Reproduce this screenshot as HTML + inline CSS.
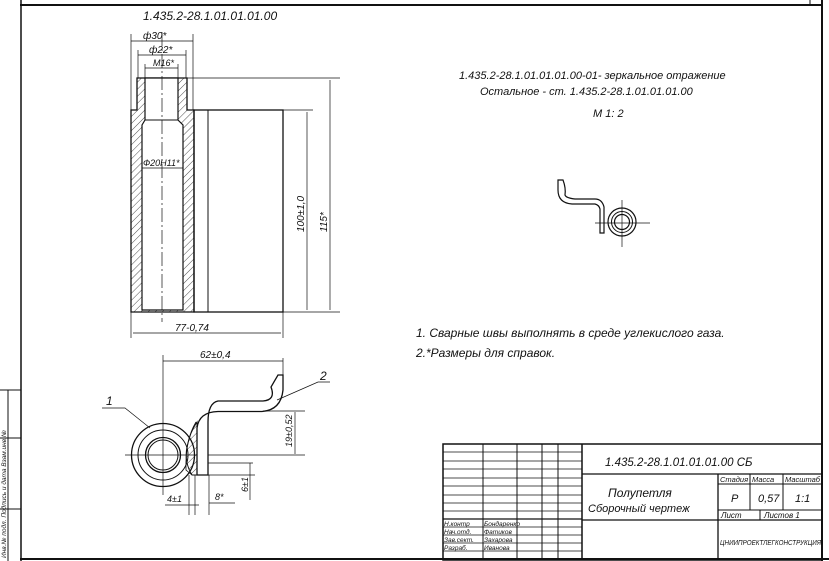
<!DOCTYPE html>
<html><head><meta charset="utf-8"><style>
html,body{margin:0;padding:0;background:#fff}
svg{display:block}
text{font-family:"Liberation Sans","DejaVu Sans",sans-serif;font-style:italic;fill:#111}
</style></head><body>
<svg width="829" height="561" viewBox="0 0 829 561" xmlns="http://www.w3.org/2000/svg">
<defs>
<pattern id="h" width="5" height="5" patternUnits="userSpaceOnUse" patternTransform="rotate(45)">
<line x1="0" y1="0" x2="0" y2="5" stroke="#222" stroke-width="0.8"/></pattern>
</defs>
<g stroke="#111" fill="none" stroke-width="1">
<line x1="20" y1="5" x2="822" y2="5" stroke-width="2"/>
<line x1="21" y1="0" x2="21" y2="561" stroke-width="1.5"/>
<line x1="822" y1="0" x2="822" y2="561" stroke-width="2"/>
<line x1="20" y1="559" x2="829" y2="559" stroke-width="2"/>
<line x1="810" y1="0" x2="810" y2="5"/>
<line x1="0" y1="390" x2="21" y2="390"/><line x1="0" y1="438" x2="21" y2="438"/><line x1="0" y1="509" x2="21" y2="509"/>
<line x1="8" y1="390" x2="8" y2="561"/>

<path d="M137 78 L187 78 L187 110 L194 110 L194 312 L131 312 L131 110 L137 110 Z" stroke-width="1.3" fill="url(#h)"/>
<path d="M145 78 L178 78 L178 120 L183 125 L183 310 L142 310 L142 125 L145 120 Z" fill="#fff" stroke-width="1.2"/>
<line x1="145" y1="120" x2="178" y2="120"/>
<line x1="162" y1="32" x2="162" y2="322" stroke-dasharray="14 3 2 3" stroke-width="0.7"/>
<rect x="194" y="110" width="89" height="202" stroke-width="1.3"/>
<line x1="208" y1="110" x2="208" y2="312"/>
<line x1="187" y1="78" x2="340" y2="78" stroke-width="0.7"/>
<line x1="283" y1="110" x2="313" y2="110" stroke-width="0.7"/>
<line x1="283" y1="312" x2="340" y2="312" stroke-width="0.7"/>
<line x1="307" y1="112" x2="307" y2="310" stroke-width="0.7"/>
<line x1="330" y1="80" x2="330" y2="310" stroke-width="0.7"/>
<line x1="131" y1="312" x2="131" y2="338" stroke-width="0.7"/>
<line x1="283" y1="312" x2="283" y2="338" stroke-width="0.7"/>
<line x1="133" y1="333" x2="281" y2="333" stroke-width="0.7"/>
<line x1="131" y1="34" x2="131" y2="110" stroke-width="0.7"/>
<line x1="193" y1="34" x2="193" y2="110" stroke-width="0.7"/>
<line x1="131" y1="41" x2="193" y2="41" stroke-width="0.7"/>
<line x1="138" y1="50" x2="138" y2="78" stroke-width="0.7"/>
<line x1="186" y1="50" x2="186" y2="78" stroke-width="0.7"/>
<line x1="138" y1="55" x2="186" y2="55" stroke-width="0.7"/>
<line x1="145" y1="64" x2="145" y2="78" stroke-width="0.7"/>
<line x1="178" y1="64" x2="178" y2="78" stroke-width="0.7"/>
<line x1="145" y1="68" x2="178" y2="68" stroke-width="0.7"/>
<line x1="142" y1="168" x2="183" y2="168" stroke-width="0.7"/>

<circle cx="163" cy="455" r="31.5" stroke-width="1.3"/>
<circle cx="163" cy="455" r="25"/>
<circle cx="163" cy="455" r="17.5" stroke-width="1.3"/>
<circle cx="163" cy="455" r="15"/>
<line x1="125" y1="455" x2="305" y2="455" stroke-width="0.7"/>
<line x1="163" y1="355" x2="163" y2="495" stroke-width="0.7"/>
<path d="M197 475 L197 428 Q199 412 218 411.5 L262 411.5 Q281 410 283 390 L283 375 L278 375 L271 387 Q276 400 263 401 L218 401 Q208 403 208 422 L208 475 Z" stroke-width="1.3" fill="#fff"/>
<path d="M197 422 L197 475 L192 475 Q184 462 187 447 Q190 432 197 422 Z" fill="url(#h)" stroke-width="1"/>
<path d="M196 422 Q185 440 186 470 L192 475" stroke-width="0.8"/>
<line x1="163" y1="361" x2="283" y2="361" stroke-width="0.7"/>
<line x1="283" y1="358" x2="283" y2="375" stroke-width="0.7"/>
<line x1="263" y1="411" x2="305" y2="411" stroke-width="0.7"/>
<line x1="295" y1="412" x2="295" y2="454" stroke-width="0.7"/>
<line x1="208" y1="463" x2="253" y2="463" stroke-width="0.7"/>
<line x1="197" y1="475" x2="255" y2="475" stroke-width="0.7"/>
<line x1="250" y1="463" x2="250" y2="500" stroke-width="0.7"/>
<line x1="189" y1="475" x2="189" y2="515" stroke-width="0.7"/>
<line x1="195" y1="475" x2="195" y2="515" stroke-width="0.7"/>
<line x1="209" y1="475" x2="209" y2="515" stroke-width="0.7"/>
<line x1="165" y1="505" x2="199" y2="505" stroke-width="0.7"/>
<line x1="209" y1="503" x2="235" y2="503" stroke-width="0.7"/>
<polyline points="102,408 125,408 150,428" stroke-width="0.7"/>
<polyline points="277,400 318,382 330,382" stroke-width="0.7"/>

<path d="M558 180 L563 180 Q566 188 565 195 Q566 198 575 199 L595 199 Q602 199 604 207 L604 233 L600 233 L600 209 Q599 205 595 204 L572 204 Q558 203 558 190 Z" stroke-width="1.2"/>
<circle cx="622" cy="222" r="14" stroke-width="1.2"/>
<circle cx="622" cy="222" r="10.5"/>
<circle cx="622" cy="222" r="7.5" stroke-width="1.2"/>
<line x1="595" y1="223" x2="650" y2="223" stroke-width="0.7"/>
<line x1="622" y1="200" x2="622" y2="247" stroke-width="0.7"/>

<rect x="443" y="444" width="379" height="116" stroke-width="1.5"/>
<line x1="582" y1="444" x2="582" y2="560" stroke-width="1.5"/>
<line x1="483" y1="444" x2="483" y2="560"/>
<line x1="517" y1="444" x2="517" y2="560"/>
<line x1="542" y1="444" x2="542" y2="560"/>
<line x1="558" y1="444" x2="558" y2="560"/>
<g stroke-width="0.8">
<line x1="443" y1="452" x2="582" y2="452"/><line x1="443" y1="461" x2="582" y2="461"/>
<line x1="443" y1="469" x2="582" y2="469"/><line x1="443" y1="478" x2="582" y2="478"/>
<line x1="443" y1="486" x2="582" y2="486"/><line x1="443" y1="495" x2="582" y2="495"/>
<line x1="443" y1="503" x2="582" y2="503"/><line x1="443" y1="511" x2="582" y2="511"/>
<line x1="443" y1="519" x2="582" y2="519" stroke-width="1.2"/><line x1="443" y1="527" x2="582" y2="527"/>
<line x1="443" y1="535" x2="582" y2="535"/><line x1="443" y1="543" x2="582" y2="543"/>
<line x1="443" y1="551" x2="582" y2="551"/>
</g>
<line x1="582" y1="474" x2="822" y2="474" stroke-width="1.3"/>
<line x1="718" y1="484" x2="822" y2="484"/>
<line x1="582" y1="520" x2="822" y2="520" stroke-width="1.3"/>
<line x1="718" y1="510" x2="822" y2="510"/>
<line x1="718" y1="474" x2="718" y2="560" stroke-width="1.3"/>
<line x1="750" y1="474" x2="750" y2="510"/>
<line x1="783" y1="474" x2="783" y2="510"/>
<line x1="760" y1="510" x2="760" y2="520"/>
</g>

<g font-size="11">
<text x="143" y="20" font-size="12">1.435.2-28.1.01.01.01.00</text>
<text x="143" y="39" font-size="10">ф30*</text>
<text x="149" y="53" font-size="10">ф22*</text>
<text x="153" y="66" font-size="9">М16*</text>
<text x="143" y="166" font-size="9">Ф20Н11*</text>
<text x="175" y="331" font-size="10">77-0,74</text>
<text transform="translate(304,232) rotate(-90)" font-size="10">100±1,0</text>
<text transform="translate(327,232) rotate(-90)" font-size="10">115*</text>
<text x="200" y="358" font-size="10">62±0,4</text>
<text x="320" y="380" font-size="12">2</text>
<text x="106" y="405" font-size="12">1</text>
<text transform="translate(292,447) rotate(-90)" font-size="9">19±0,52</text>
<text transform="translate(248,492) rotate(-90)" font-size="9">6±1</text>
<text x="167" y="502" font-size="9">4±1</text>
<text x="215" y="500" font-size="9">8*</text>

<text x="459" y="79" font-size="11">1.435.2-28.1.01.01.01.00-01- зеркальное  отражение</text>
<text x="480" y="95" font-size="11">Остальное - ст. 1.435.2-28.1.01.01.01.00</text>
<text x="593" y="117" font-size="11">М 1: 2</text>
<text x="416" y="337" font-size="12">1. Сварные  швы  выполнять  в среде  углекислого  газа.</text>
<text x="416" y="357" font-size="12">2.*Размеры  для  справок.</text>

<text x="605" y="466" font-size="11.5">1.435.2-28.1.01.01.01.00 СБ</text>
<text x="608" y="497" font-size="12">Полупетля</text>
<text x="588" y="512" font-size="11">Сборочный   чертеж</text>
<text x="720" y="482" font-size="7.5">Стадия</text>
<text x="752" y="482" font-size="7.5">Масса</text>
<text x="785" y="482" font-size="7.5" textLength="35" lengthAdjust="spacingAndGlyphs">Масштаб</text>
<text x="731" y="502" font-size="11">Р</text>
<text x="758" y="502" font-size="11">0,57</text>
<text x="795" y="502" font-size="11">1:1</text>
<text x="721" y="518" font-size="8">Лист</text>
<text x="764" y="518" font-size="8">Листов  1</text>
<text x="720" y="545" font-size="7.5" textLength="101" lengthAdjust="spacingAndGlyphs">ЦНИИПРОЕКТЛЕГКОНСТРУКЦИЯ</text>
<text x="444" y="526" font-size="6.5">Н.контр</text>
<text x="484" y="526" font-size="6.5">Бондаренко</text>
<text x="444" y="534" font-size="6.5">Нач.отд.</text>
<text x="484" y="534" font-size="6.5">Фатиков</text>
<text x="444" y="542" font-size="6.5">Зав.сект.</text>
<text x="484" y="542" font-size="6.5">Захарова</text>
<text x="444" y="550" font-size="6.5">Разраб.</text>
<text x="484" y="550" font-size="6.5">Иванова</text>
<text transform="translate(6,558) rotate(-90)" font-size="6.5">Инв.№ подл.  Подпись и дата  Взам.инв.№</text>
</g>
</svg>
</body></html>
